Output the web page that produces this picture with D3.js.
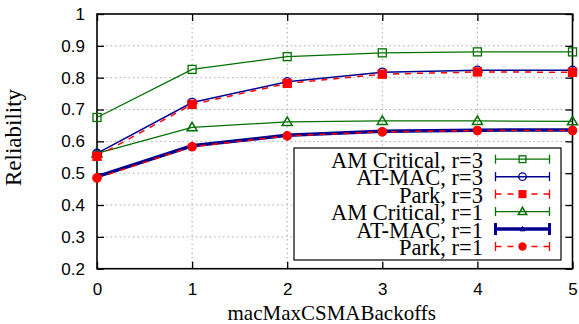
<!DOCTYPE html>
<html><head><meta charset="utf-8">
<script src="https://cdn.jsdelivr.net/npm/d3@7"></script>
<style>body{margin:0;background:#fff}svg{display:block}</style>
</head><body>
<svg id="c" width="579" height="324"></svg>
<script>
const xValues = [0, 1, 2, 3, 4, 5];
const yTicks = [0.2, 0.3, 0.4, 0.5, 0.6, 0.7, 0.8, 0.9, 1];
const xTicks = [0, 1, 2, 3, 4, 5];
const amCritR3 = [0.675, 0.826, 0.866, 0.878, 0.881, 0.881];
const atMacR3  = [0.562, 0.722, 0.787, 0.817, 0.823, 0.823];
const parkR3   = [0.553, 0.716, 0.782, 0.811, 0.818, 0.817];
const amCritR1 = [0.562, 0.644, 0.661, 0.664, 0.664, 0.663];
const atMacR1  = [0.489, 0.586, 0.619, 0.632, 0.635, 0.636];
const parkR1   = [0.485, 0.583, 0.617, 0.630, 0.634, 0.634];
const seriesNames = ["AM Critical, r=3","AT-MAC, r=3","Park, r=3","AM Critical, r=1","AT-MAC, r=1","Park, r=1"];

const series = [
  {name: seriesNames[0], vals: amCritR3, color: "#007000", width: 1.3, dash: null, marker: "square", fill: false},
  {name: seriesNames[1], vals: atMacR3, color: "#000090", width: 1.5, dash: null, marker: "circle", fill: false},
  {name: seriesNames[2], vals: parkR3, color: "#ff0000", width: 1.5, dash: "6,6", marker: "square", fill: true},
  {name: seriesNames[3], vals: amCritR1, color: "#007000", width: 1.3, dash: null, marker: "triangle", fill: false},
  {name: seriesNames[4], vals: atMacR1, color: "#000090", width: 3.5, dash: null, marker: "tri-small", fill: true},
  {name: seriesNames[5], vals: parkR1, color: "#ff0000", width: 1.5, dash: "6,6", marker: "circle", fill: true},
];

const svg = d3.select("#c");
const L = 97, R = 572.5, T = 14, B = 268.7;
const x = d3.scaleLinear().domain([0,5]).range([L,R]);
const y = d3.scaleLinear().domain([0.2,1]).range([B,T]);
const serif = "Liberation Serif, Times New Roman, serif";

// grid
const g = svg.append("g");
g.selectAll(".gy").data(yTicks.slice(1,-1)).enter().append("line")
  .attr("x1",L).attr("x2",R).attr("y1",d=>y(d)).attr("y2",d=>y(d))
  .attr("stroke","#aaa").attr("stroke-width",1).attr("stroke-dasharray","1.5,3");
g.selectAll(".gx").data(xTicks.slice(1,-1)).enter().append("line")
  .attr("y1",T).attr("y2",B).attr("x1",d=>x(d)).attr("x2",d=>x(d))
  .attr("stroke","#aaa").attr("stroke-width",1).attr("stroke-dasharray","1.5,3");

// axes
const axL = svg.append("g").attr("transform",`translate(${L},0)`)
  .call(d3.axisLeft(y).tickValues(yTicks).tickSize(-7).tickPadding(12).tickFormat(d3.format("")));
const axR = svg.append("g").attr("transform",`translate(${R},0)`)
  .call(d3.axisRight(y).tickValues(yTicks).tickSize(-7).tickFormat(""));
const axB = svg.append("g").attr("transform",`translate(0,${B})`)
  .call(d3.axisBottom(x).tickValues(xTicks).tickSize(-7).tickPadding(14).tickFormat(d3.format("d")));
const axT = svg.append("g").attr("transform",`translate(0,${T})`)
  .call(d3.axisTop(x).tickValues(xTicks).tickSize(-7).tickFormat(""));
[axL,axR,axB,axT].forEach(a=>{
  a.select(".domain").remove();
  a.selectAll("line").attr("stroke","#000").attr("stroke-width",1.3);
  a.selectAll("text").attr("font-family","Liberation Sans, Arial, sans-serif").attr("font-size",17).attr("fill","#000");
});
svg.append("rect").attr("x",L).attr("y",T).attr("width",R-L).attr("height",B-T)
  .attr("fill","none").attr("stroke","#000").attr("stroke-width",1.6);

// markers
function drawMarker(sel, type, cx, cy, color, fill, scale=1){
  if(type==="square"){
    const s=8*scale;
    sel.append("rect").attr("x",cx-s/2).attr("y",cy-s/2).attr("width",s).attr("height",s)
      .attr("fill",fill?color:"none").attr("stroke",color).attr("stroke-width",1.3);
  } else if(type==="circle"){
    sel.append("circle").attr("cx",cx).attr("cy",cy).attr("r",4.2*scale)
      .attr("fill",fill?color:"none").attr("stroke",color).attr("stroke-width",1.3);
  } else if(type==="triangle"){
    const s=5*scale;
    sel.append("path").attr("d",`M${cx},${cy-s}L${cx+s},${cy+s*0.7}L${cx-s},${cy+s*0.7}Z`)
      .attr("fill",fill?color:"none").attr("stroke",color).attr("stroke-width",1.5);
  } else if(type==="tri-small"){
    const s=3*scale;
    sel.append("path").attr("d",`M${cx},${cy-s}L${cx+s},${cy+s*0.7}L${cx-s},${cy+s*0.7}Z`)
      .attr("fill",color).attr("stroke",color).attr("stroke-width",1);
  }
}

const line = d3.line().x((d,i)=>x(xValues[i])).y(d=>y(d));
const drawOrder = [0,3,1,4,2,5];
drawOrder.forEach(k=>{
  const s=series[k];
  svg.append("path").attr("d",line(s.vals)).attr("fill","none").attr("stroke",s.color)
    .attr("stroke-width",s.width).attr("stroke-dasharray",s.dash);
});
drawOrder.forEach(k=>{
  const s=series[k];
  const mg=svg.append("g");
  s.vals.forEach((v,i)=>drawMarker(mg,s.marker,x(xValues[i]),y(v),s.color,s.fill));
});

// legend
const lg = svg.append("g");
lg.append("rect").attr("x",294).attr("y",148).attr("width",267).attr("height",112)
  .attr("fill","#fff").attr("stroke","#000").attr("stroke-width",1.2);
const rowY = d3.scaleLinear().domain([0,5]).range([159.2,246.5]);
series.forEach((s,i)=>{
  const yy=rowY(i);
  lg.append("text").attr("x",483).attr("y",yy+8.5).attr("text-anchor","end")
    .attr("font-family",serif).attr("font-size",22.5)
    .attr("fill","#000").text(s.name);
  const x1=495.5, x2=549.5, cap=s.width>3?6:4.5;
  lg.append("line").attr("x1",x1).attr("x2",x2).attr("y1",yy).attr("y2",yy)
    .attr("stroke",s.color).attr("stroke-width",s.width).attr("stroke-dasharray",s.dash);
  [x1,x2].forEach(cx=>lg.append("line").attr("x1",cx).attr("x2",cx).attr("y1",yy-cap).attr("y2",yy+cap)
    .attr("stroke",s.color).attr("stroke-width",s.width>3?3:1.3));
  drawMarker(lg,s.marker,522.5,yy,s.color,s.fill,s.marker==="circle"&&!s.fill?0.9:0.85);
});

// axis titles
svg.append("text").attr("transform","translate(21,137.5) rotate(-90)").attr("text-anchor","middle")
  .attr("font-family",serif).attr("font-size",23).text("Reliability");
svg.append("text").attr("x",331.7).attr("y",320).attr("text-anchor","middle")
  .attr("font-family",serif).attr("font-size",21).text("macMaxCSMABackoffs");
</script>
</body></html>
